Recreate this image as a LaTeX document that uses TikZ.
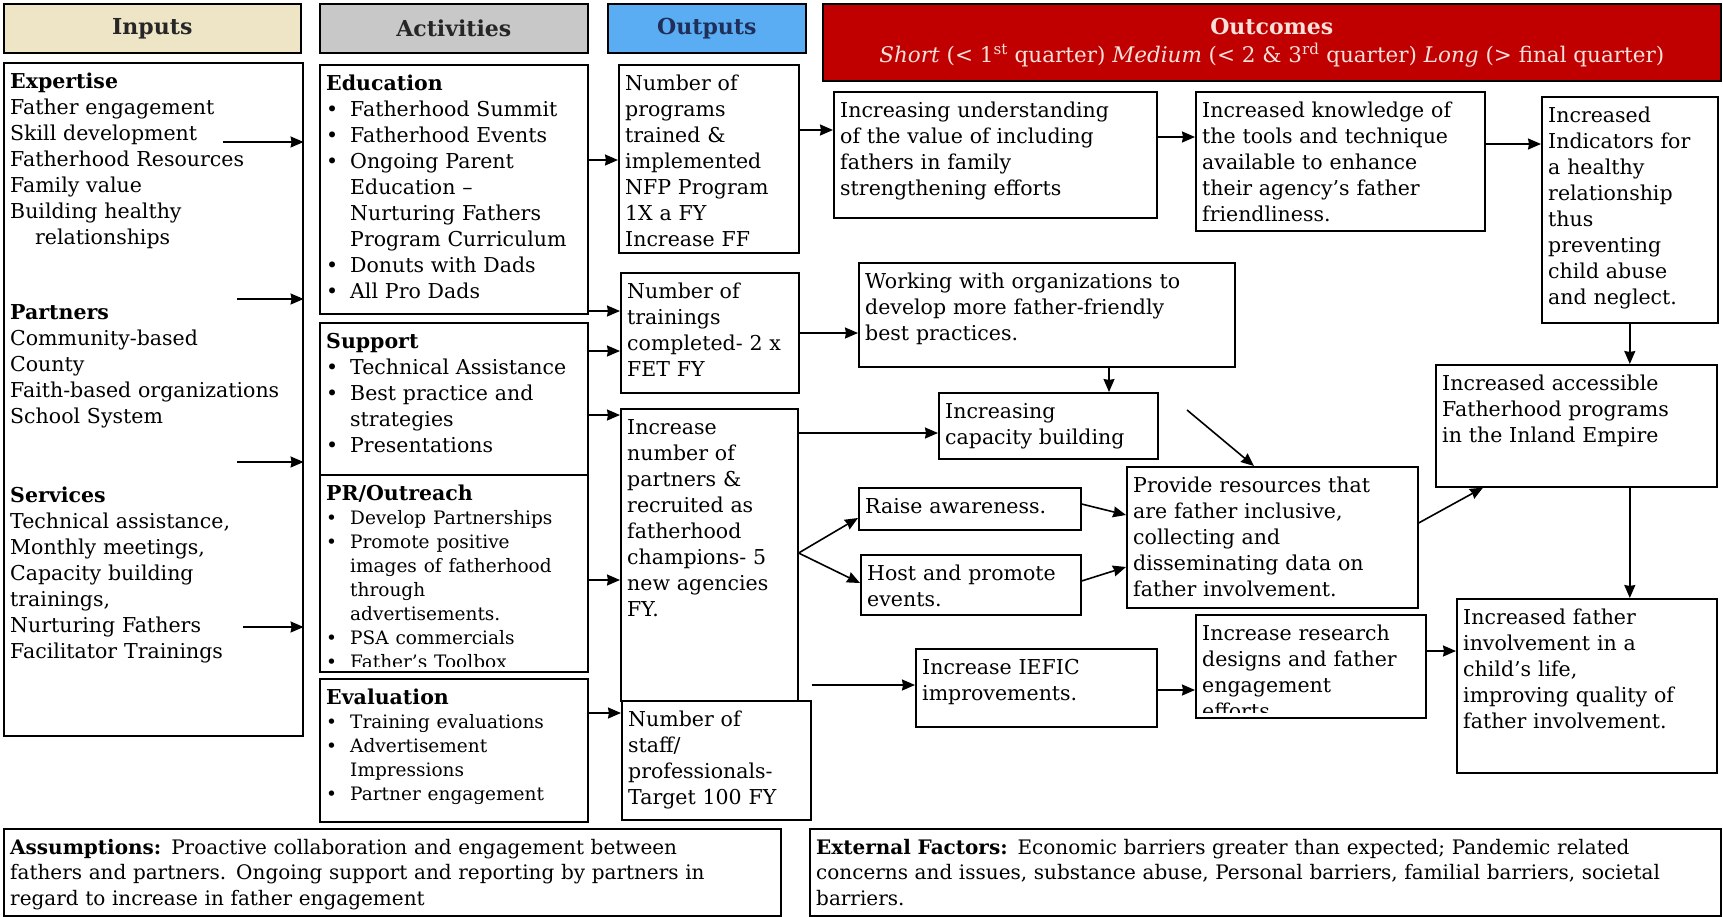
\documentclass[tikz,border=0pt]{standalone}
\usepackage{fontspec}
\setmainfont{DejaVu Serif}
\usepackage{tikz}
\usetikzlibrary{arrows.meta,positioning,calc}

\definecolor{inputtan}{HTML}{EEE4C6}
\definecolor{actgray}{HTML}{C8C8C8}
\definecolor{outblue}{HTML}{5AADF2}
\definecolor{outcred}{HTML}{C00000}
\definecolor{outnavy}{HTML}{1F2F5A}
\definecolor{outcpink}{HTML}{F8E1DA}

\newcommand{\bul}{\par\hangindent=24pt\hangafter=1\noindent\makebox[24pt][l]{\textbullet}}
\newcommand{\smallitems}{\fontsize{18.5}{24}\selectfont}
\newcommand{\cell}[7][]{%
  \pgfmathsetmacro{\cellw}{#5-#3}%
  \pgfmathsetmacro{\cellh}{#6-#4}%
  \pgfmathsetmacro{\cellt}{#5-#3-14}%
  \node[cellbox={\cellw pt,\cellh pt}] (#2) at (#3,#4) {};
  \begin{scope}
    \clip ([shift={(2pt,-2pt)}]#2.north west) rectangle ([shift={(-2pt,6pt)}]#2.south east);
    \node[celltext,text width=\cellt pt,#1] (#2-txt) at (#2.north west) {#7};
  \end{scope}%
}

\tikzset{
  >={Stealth[length=13pt,width=11pt,inset=1pt]},
  link/.style={->,line width=1.6pt},
  headbox/.style args={#1,#2,#3}{
  draw=black,
  line width=1.6pt,
  anchor=north west,
  fill=#1,
  minimum width=#2,
  minimum height=#3,
  font=\fontsize{22}{28}\bfseries\selectfont
  },
  cellbox/.style args={#1,#2}{
  draw=black,
  line width=1.6pt,
  anchor=north west,
  inner sep=0pt,
  minimum width=#1,
  minimum height=#2
  },
  celltext/.style={anchor=north west,inner xsep=7pt,inner ysep=9pt,text height=17pt,
   align=left,font=\fontsize{20.5}{26}\selectfont}
}

\begin{document}
\begin{tikzpicture}[x=1pt,y=-1pt]
  \useasboundingbox (0,0) rectangle (1723,916);
  \fill[white] (0,0) rectangle (1723,916);

  \node[headbox={inputtan,297pt,49pt},text=black!85] (hinp) at (3,3) {Inputs};
  \node[headbox={actgray,268pt,49pt},text=black!85] (hact) at (319,3) {Activities};
  \node[headbox={outblue,198pt,49pt},text=outnavy] (hout) at (607,3) {Outputs};
  \node[headbox={outcred,898pt,77pt},text=outcpink,align=center] (houtc) at (822,3)
    {Outcomes\\{\fontsize{21.5}{30}\mdseries\selectfont\textit{Short} (< 1\textsuperscript{st} quarter) \textit{Medium} (< 2 \& 3\textsuperscript{rd} quarter) \textit{Long} (> final quarter)}};

  \cell{inp}{3}{62}{302}{735}{\textbf{Expertise}\\Father engagement\\Skill development\\Fatherhood Resources\\Family value\\Building healthy\\\hspace*{25pt}relationships\\[49pt]
    \textbf{Partners}\\Community-based\\County\\Faith-based organizations\\School System\\[53pt]
    \textbf{Services}\\Technical assistance,\\Monthly meetings,\\Capacity building\\trainings,\\Nurturing Fathers\\Facilitator Trainings}
  \cell{edu}{319}{64}{587}{313}{\textbf{Education}
    \bul Fatherhood Summit
    \bul Fatherhood Events
    \bul Ongoing Parent\newline Education --\newline Nurturing Fathers\newline Program Curriculum
    \bul Donuts with Dads
    \bul All Pro Dads\par}
  \cell{sup}{319}{322}{587}{474}{\textbf{Support}
    \bul Technical Assistance
    \bul Best practice and\newline strategies
    \bul Presentations\par}
  \cell{pr}{319}{474}{587}{671}{\textbf{PR/Outreach}
    {\smallitems
    \bul Develop Partnerships
    \bul Promote positive\newline images of fatherhood\newline through\newline advertisements.
    \bul PSA commercials
    \bul Father's Toolbox\par}}
  \cell{eva}{319}{678}{587}{821}{\textbf{Evaluation}
    {\smallitems
    \bul Training evaluations
    \bul Advertisement\newline Impressions
    \bul Partner engagement\par}}

  \cell{out1}{618}{64}{798}{252}{Number of\\programs\\trained \&\\implemented\\NFP Program\\1X a FY\\Increase FF}
  \cell{out2}{620}{272}{798}{392}{Number of\\trainings\\completed- 2 x\\FET FY}
  \cell{out3}{620}{408}{797}{700}{Increase\\number of\\partners \&\\recruited as\\fatherhood\\champions- 5\\new agencies\\FY.}
  \cell{out4}{621}{700}{810}{819}{Number of\\staff/\\professionals-\\Target 100 FY}

  \cell{und}{833}{91}{1156}{217}{Increasing understanding\\of the value of including\\fathers in family\\strengthening efforts}
  \cell{knw}{1195}{91}{1484}{230}{Increased knowledge of\\the tools and technique\\available to enhance\\their agency's father\\friendliness.}
  \cell{ind}{1541}{96}{1717}{322}{Increased\\Indicators for\\a healthy\\relationship\\thus\\preventing\\child abuse\\and neglect.}
  \cell{wrk}{858}{262}{1234}{366}{Working with organizations to\\develop more father-friendly\\best practices.}
  \cell{cap}{938}{392}{1157}{458}{Increasing\\capacity building}
  \cell{acc}{1435}{364}{1716}{486}{Increased accessible\\Fatherhood programs\\in the Inland Empire}
  \cell{rai}{858}{487}{1080}{529}{Raise awareness.}
  \cell{hos}{860}{554}{1080}{614}{Host and promote\\events.}
  \cell{prv}{1126}{466}{1417}{607}{Provide resources that\\are father inclusive,\\collecting and\\disseminating data on\\father involvement.}
  \cell{ief}{915}{648}{1156}{726}{Increase IEFIC\\improvements.}
  \cell{res}{1195}{614}{1425}{717}{Increase research\\designs and father\\engagement\\efforts}
  \cell{fin}{1456}{598}{1716}{772}{Increased father\\involvement in a\\child's life,\\improving quality of\\father involvement.}

  \cell[font=\fontsize{20}{25.5}\selectfont]{asm}{3}{828}{780}{915}{\textbf{Assumptions:} Proactive collaboration and engagement between\\fathers and partners. Ongoing support and reporting by partners in\\regard to increase in father engagement}
  \cell[font=\fontsize{20}{25.5}\selectfont]{ext}{809}{828}{1720}{915}{\textbf{External Factors:} Economic barriers greater than expected; Pandemic related\\concerns and issues, substance abuse, Personal barriers, familial barriers, societal\\barriers.}

  \coordinate (in1) at (223,142);
  \coordinate (in2) at (237,299);
  \coordinate (in3) at (237,462);
  \coordinate (in4) at (243,627);
  \draw[link] (in1) -- (in1 -| inp.east);
  \draw[link] (in2) -- (in2 -| inp.east);
  \draw[link] (in3) -- (in3 -| inp.east);
  \draw[link] (in4) -- (in4 -| inp.east);

  \draw[link] (edu.east |- 0,160) -- (out1.west |- 0,160);
  \draw[link] (edu.east |- 0,311) -- (out2.west |- 0,311);
  \draw[link] (sup.east |- 0,351) -- (out2.west |- 0,351);
  \draw[link] (sup.east |- 0,415) -- (out3.west |- 0,415);
  \draw[link] (pr.east |- 0,580) -- (out3.west |- 0,580);
  \draw[link] (eva.east |- 0,713) -- (out4.west |- 0,713);

  \draw[link] (out1.east |- 0,130) -- (und.west |- 0,130);
  \draw[link] (und.east |- 0,137) -- (knw.west |- 0,137);
  \draw[link] (knw.east |- 0,144) -- (ind.west |- 0,144);
  \draw[link] (out2.east |- 0,333) -- (wrk.west |- 0,333);
  \draw[link] (wrk.south -| 1109,0) -- (cap.north -| 1109,0);
  \draw[link] (out3.east |- 0,433) -- (cap.west |- 0,433);
  \coordinate (fork) at (out3.east |- 0,553);
  \draw[link] (fork) -- (rai.west |- 0,518);
  \draw[link] (fork) -- (hos.west |- 0,583);
  \draw[link] (rai.east |- 0,504) -- (prv.west |- 0,515);
  \draw[link] (hos.east |- 0,581) -- (prv.west |- 0,567);
  \coordinate (diag) at (1187,410);
  \draw[link] (diag) -- (prv.north -| 1254,0);
  \draw[link] (prv.east |- 0,523) -- (acc.south -| 1483,0);
  \draw[link] (ind.south) -- (acc.north -| ind.south);
  \draw[link] (acc.south -| ind.south) -- (fin.north -| ind.south);
  \draw[link] (out4.east |- 0,685) -- (ief.west |- 0,685);
  \draw[link] (ief.east |- 0,690) -- (res.west |- 0,690);
  \draw[link] (res.east |- 0,651) -- (fin.west |- 0,651);
\end{tikzpicture}
\end{document}
